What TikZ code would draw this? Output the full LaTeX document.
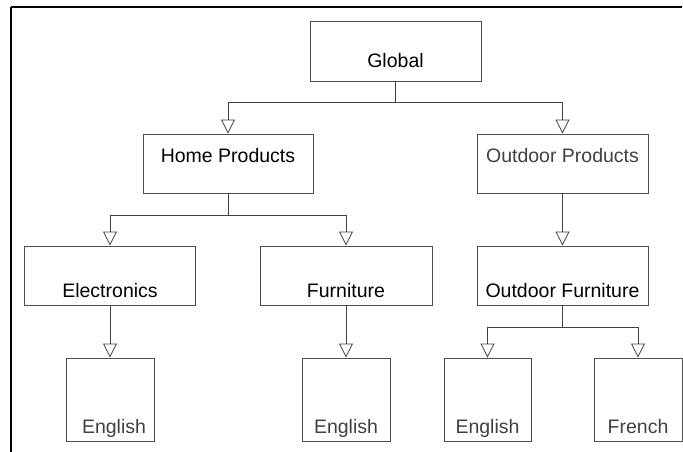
\documentclass[tikz,border=0pt]{standalone}
\usepackage{fontspec}
\setmainfont{Liberation Sans}
\usetikzlibrary{arrows.meta}
\definecolor{boxline}{HTML}{505050}
\definecolor{conline}{HTML}{404040}
\definecolor{graytext}{HTML}{404040}
\begin{document}
\begin{tikzpicture}[x=1pt,y=-1pt,
  every node/.style={font=\fontsize{19.5}{20}\selectfont},
  boxnode/.style={draw=boxline, line width=0.9pt, inner sep=0pt, rectangle},
  rowA/.style={boxnode, minimum width=171pt, minimum height=60pt, text height=47pt, text depth=13pt},
  rowB/.style={boxnode, minimum width=170pt, minimum height=59pt, text height=28pt, text depth=31pt},
  rowC/.style={boxnode, minimum width=171pt, minimum height=59pt, text height=51pt, text depth=8pt},
  leaf/.style={boxnode, minimum width=88pt, minimum height=83pt, text height=75pt, text depth=8pt, text=graytext},
  conn/.style={draw=conline, line width=0.9pt, -{Triangle[open, length=14pt, width=14pt, line width=0.8pt]}},
  border/.style={draw=black, line width=1.8pt}
]
\useasboundingbox (0,0) rectangle (683,452);
% frame
\coordinate (ftl) at (11,7.3);
\coordinate (ftr) at (682,7.3);
\coordinate (fbl) at (11,452);
\draw[border] (ftr) -- (ftl);
\draw[draw=black, line width=1.3pt] (ftl) -- (fbl);

% nodes
\node[rowA] (G) at (395.5,51) {Global};
\node[rowB] (HP) at (228,163.5) {Home Products};
\node[rowB, minimum width=171pt, text=graytext] (OP) at (562.5,163.5) {Outdoor Products};
\node[rowC] (EL) at (110,275.5) {Electronics};
\node[rowC, minimum width=172pt] (FU) at (346,275.5) {Furniture};
\node[rowC] (OF) at (562.5,275.5) {Outdoor Furniture};
\node[leaf] (E1) at (110,399.5) {\hspace*{8pt}English};
\node[leaf] (E2) at (346,399.5) {English};
\node[leaf, minimum width=87pt] (E3) at (487.5,399.5) {English};
\node[leaf] (FR) at (638,399.5) {French};

% connectors
\draw[conn] (G.south) -- ++(0,21) -| (HP.north);
\draw[conn] (G.south) -- ++(0,21) -| (OP.north);
\draw[conn] (HP.south) -- ++(0,22) -| (EL.north);
\draw[conn] (HP.south) -- ++(0,22) -| (FU.north);
\draw[conn] (OP.south) -- (OF.north);
\draw[conn] (EL.south) -- (E1.north);
\draw[conn] (FU.south) -- (E2.north);
\draw[conn] (OF.south) -- ++(0,22) -| (E3.north);
\draw[conn] (OF.south) -- ++(0,22) -| (FR.north);
\end{tikzpicture}
\end{document}
